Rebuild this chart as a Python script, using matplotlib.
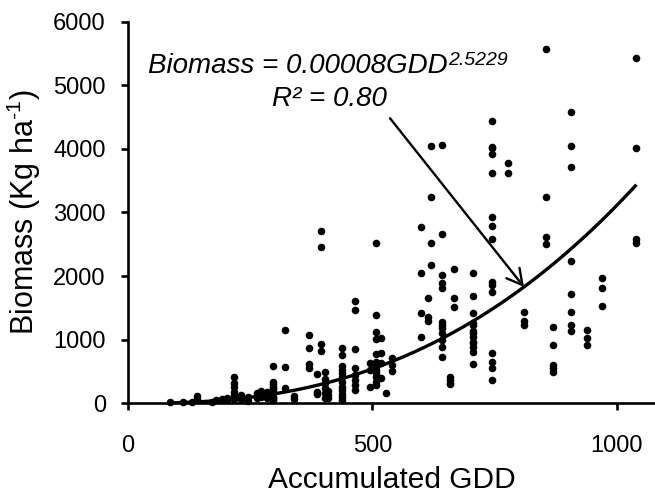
import numpy as np
import matplotlib
matplotlib.use("Agg")
import matplotlib.pyplot as plt

plt.rcParams['font.family'] = ['Liberation Sans', 'DejaVu Sans']
plt.rcParams['mathtext.fontset'] = 'custom'
plt.rcParams['mathtext.rm'] = 'Liberation Sans'
plt.rcParams['mathtext.it'] = 'Liberation Sans:italic'
plt.rcParams['mathtext.default'] = 'regular'

# ---- data ----
gdd = [
    86, 113, 130, 141, 141, 171, 180, 192, 203, 203,
    216, 216, 216, 216, 216, 216, 216,
    232, 232, 246, 246, 263, 263, 273, 273, 273, 284, 284,
    297, 297, 297, 297, 297, 297, 297, 297, 297, 297, 297, 297,
    322, 322, 322, 340, 340,
    370, 370, 370, 370,
    386, 386, 386,
    395, 395, 395, 395,
    402, 402, 402, 402, 402, 402,
    409, 409, 409,
    438, 438, 438, 438, 438, 438, 438, 438, 438, 438, 438, 438,
    464, 464, 464, 464, 464, 464, 464, 464,
    495, 495, 495,
    508, 508, 508, 508, 508, 508, 508, 508, 508, 508, 508, 508, 508,
    517, 517, 517, 517,
    528,
    539, 539, 539,
    599, 599, 599, 599,
    614, 614, 614,
    619, 619, 619, 619,
    643, 643, 643, 643, 643, 643, 643, 643, 643, 643, 643, 643,
    659, 659, 659, 659,
    666, 666, 666,
    705, 705, 705, 705, 705, 705, 705, 705, 705, 705, 705, 705, 705,
    745, 745, 745, 745, 745, 745, 745, 745, 745, 745, 745, 745, 745, 745, 745,
    778, 778,
    811, 811, 811,
    855, 855, 855, 855,
    869, 869, 869, 869, 869,
    906, 906, 906, 906, 906, 906, 906, 906,
    939, 939, 939,
    970, 970, 970,
    1040, 1040, 1040, 1040,
]
biomass = [
    20, 15, 25, 110, 60, 20, 45, 60, 50, 80,
    408, 320, 260, 180, 130, 100, 60,
    130, 70, 100, 40, 160, 80, 150, 100, 200, 170, 90,
    590, 340, 310, 260, 235, 210, 180, 155, 105, 95, 75, 50,
    1152, 566, 240, 110, 60,
    1073, 874, 613, 560,
    456, 180, 140,
    2708, 2461, 927, 816,
    487, 377, 314, 235, 157, 80,
    200, 125, 90,
    874, 755, 586, 523, 471, 418, 330, 261, 209, 146, 104, 55,
    1600, 1467, 854, 550, 445, 366, 288, 210,
    629, 523, 261,
    2524, 1383, 1125, 1006, 775, 653, 602, 575, 523, 471, 408, 340, 290,
    1031, 786, 629, 392,
    165,
    707, 602, 513,
    2776, 2043, 1414, 1040,
    1650, 1361, 1298,
    4044, 3247, 2514, 2173,
    4060, 2656, 2016, 1886, 1807, 1282, 1230, 1178, 1100, 995, 890, 733,
    418, 366, 314, 300,
    2116, 1660, 1509,
    2043, 1686, 1414, 1257, 1226, 1136, 1100, 1047, 968, 943, 890, 811, 613,
    4441, 4034, 4007, 3918, 3614, 2933, 2786, 2582, 1911, 1855, 1754, 786, 654, 550, 366,
    3771, 3624,
    1440, 1298, 1230,
    5563, 3237, 2618, 2499,
    1204, 916, 602, 550, 497,
    4583, 4044, 3709, 2241, 1718, 1440, 1230, 1141,
    1152, 1021, 916,
    1964, 1807, 1529,
    5421, 4007, 2577, 2514,
]

# fitted power curve (as drawn in the reference)
fit_coef = 0.000084
fit_exp = 2.5229

xticks = [0, 500, 1000]
yticks = [0, 1000, 2000, 3000, 4000, 5000, 6000]
x_max = 1078
y_max = 6000

eq_text = "Biomass = 0.00008GDD"
eq_sup = "2.5229"
r2_text = "R² = 0.80"

# ---- figure ----
fig = plt.figure(figsize=(6.55, 4.96), dpi=100)
W, H = 655, 496
left, right, bottom, top = 128, 655, 403.3, 21.5
ax = fig.add_axes([left / W, 1 - bottom / H, (right - left) / W, (bottom - top) / H])

ax.scatter(gdd, biomass, s=30, color='black', linewidths=0, zorder=3, clip_on=False)

xc = np.linspace(min(gdd), max(gdd), 300)
ax.plot(xc, fit_coef * xc ** fit_exp, color='black', lw=2.4, zorder=4,
        solid_capstyle='butt')

ax.set_xlim(0, x_max)
ax.set_ylim(0, y_max)
ax.set_xticks(xticks)
ax.set_yticks(yticks)

for s in ['top', 'right']:
    ax.spines[s].set_visible(False)
for s in ['left', 'bottom']:
    ax.spines[s].set_linewidth(1.9)

ax.tick_params(axis='both', direction='out', length=5, width=1.9, labelsize=17,
               colors='black')
ax.tick_params(axis='x', pad=18)
ax.tick_params(axis='y', pad=11)

ax.set_xlabel("Accumulated GDD", fontsize=21.5, labelpad=6)
ax.set_ylabel(r"Biomass (Kg ha$^{\text{-}1}$)", fontsize=22, labelpad=7)

# equation annotation
t_eq = ax.text(41, 5191, eq_text, fontsize=20, style='italic', ha='left', va='baseline')
ax.annotate(eq_sup, xy=(1, 0), xycoords=t_eq, xytext=(0.5, 10),
            textcoords='offset points', fontsize=14, style='italic',
            ha='left', va='baseline')
ax.text(413, 4672, r2_text, fontsize=20, style='italic', ha='center', va='baseline')

arrow_start = (536, 4479)
arrow_end_x = 810
ax.annotate("", xy=(arrow_end_x, fit_coef * arrow_end_x ** fit_exp), xytext=arrow_start,
            arrowprops=dict(arrowstyle='->, head_length=0.55, head_width=0.3',
                            lw=1.7, color='black', mutation_scale=20,
                            shrinkA=0, shrinkB=0))

fig.savefig("out.png", dpi=100)
